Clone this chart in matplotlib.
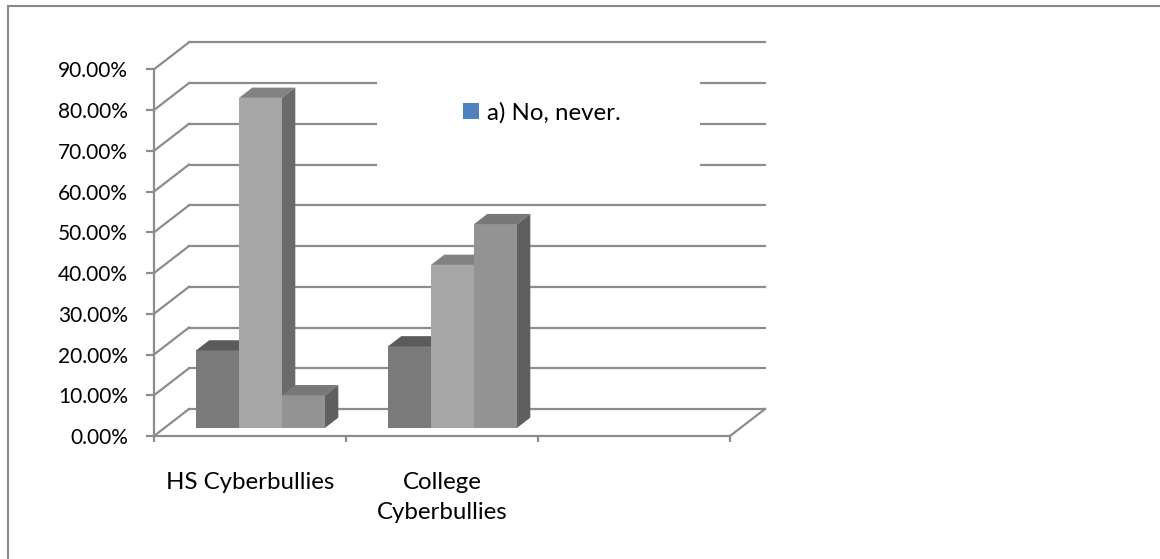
import numpy as np
import matplotlib
matplotlib.use("Agg")
import matplotlib.pyplot as plt
from matplotlib.patches import Polygon, Rectangle, Patch
from matplotlib.ticker import PercentFormatter

categories = ["HS Cyberbullies", "College\nCyberbullies", ""]
series_a = [0.19, 0.20, 0.0]
series_b = [0.81, 0.40, 0.0]
series_c = [0.08, 0.50, 0.0]
legend_label = "a) No, never."

# front / top / side shades per series (Excel greyscale 3-D columns)
shades = [
    ("#7a7a7a", "#5b5b5b", "#555555"),
    ("#a6a6a6", "#828282", "#6a6a6a"),
    ("#939393", "#787878", "#5f5f5f"),
]

plt.rcParams["font.family"] = ["Lato", "DejaVu Sans"]
FS_TICK = 15
FS_TEXT = 17.3
GRID = "#8c8c8c"

W, H = 1160, 559
fig = plt.figure(figsize=(W / 100, H / 100), dpi=100)
ax = fig.add_axes([154 / W, 1 - 436 / H, 576 / W, 366.7 / H])
ax.set_xlim(0, 3)
ax.set_ylim(0, 0.9)

# wall depth in data units
DX = 35 / 192
DY = 27 / (366.7 / 0.9)
yt = np.round(np.arange(0, 0.91, 0.1), 2)

# back wall gridlines and left wall diagonals
for t in yt:
    ax.plot([DX, 3 + DX], [t + DY, t + DY], color=GRID, lw=1.6, clip_on=False, zorder=1)
    ax.plot([0, DX], [t, t + DY], color=GRID, lw=1.6, clip_on=False, zorder=1)
ax.plot([3, 3 + DX], [0, DY], color=GRID, lw=1.6, clip_on=False, zorder=1)

# white legend area hides the gridlines behind it
ax.add_patch(Rectangle((0.387, 0.684), 0.561, 0.37, transform=ax.transAxes,
                       facecolor="white", edgecolor="none", clip_on=False, zorder=2))

# 3-D columns
bw = 0.224
d0, d1 = 0.30, 0.68
start = (1 - 3 * bw) / 2
for i in range(len(categories)):
    for j, vals in enumerate([series_a, series_b, series_c]):
        v = vals[i]
        if v <= 0:
            continue
        front, top, side = shades[j]
        x0 = i + start + j * bw
        x1 = x0 + bw
        fx, fy = d0 * DX, d0 * DY
        bx, by = d1 * DX, d1 * DY
        ax.add_patch(Polygon([(x0 + fx, fy), (x1 + fx, fy), (x1 + fx, v + fy), (x0 + fx, v + fy)],
                             closed=True, facecolor=front, edgecolor="none", clip_on=False, zorder=3))
        ax.add_patch(Polygon([(x0 + fx, v + fy), (x1 + fx, v + fy), (x1 + bx, v + by), (x0 + bx, v + by)],
                             closed=True, facecolor=top, edgecolor="none", clip_on=False, zorder=3))
        ax.add_patch(Polygon([(x1 + fx, fy), (x1 + bx, by), (x1 + bx, v + by), (x1 + fx, v + fy)],
                             closed=True, facecolor=side, edgecolor="none", clip_on=False, zorder=3))

# axes
for s in ["top", "right"]:
    ax.spines[s].set_visible(False)
for s in ["left", "bottom"]:
    ax.spines[s].set_color(GRID)
    ax.spines[s].set_linewidth(1.6)
    ax.spines[s].set_zorder(4)
ax.set_yticks(yt)
ax.yaxis.set_major_formatter(PercentFormatter(1.0, decimals=2))
ax.tick_params(axis="y", length=5.8, width=1.6, color=GRID, pad=13, labelsize=FS_TICK, labelcolor="black")
ax.set_xticks([0, 1, 2, 3])
ax.set_xticklabels([])
ax.tick_params(axis="x", which="major", length=4.5, width=1.6, color=GRID)
ax.set_xticks([0.5, 1.5, 2.5], minor=True)
ax.set_xticklabels(categories, minor=True, fontsize=FS_TEXT, linespacing=1.5)
ax.tick_params(axis="x", which="minor", length=0, pad=26, labelcolor="black")
ax.set_facecolor("none")

ax.legend(handles=[Patch(facecolor="#4f81bd", edgecolor="none", label=legend_label)],
          loc="center", bbox_to_anchor=(0.674, 0.881), frameon=False, fontsize=FS_TEXT,
          handlelength=0.65, handleheight=0.65, handletextpad=0.35)

# chart border
fig.patches.append(Rectangle((8 / W, -0.1), 1.2, 1.1 - 6 / H, transform=fig.transFigure,
                             facecolor="none", edgecolor="#8a8a8a", lw=1.5, zorder=0))

fig.savefig("out.png", dpi=100)
